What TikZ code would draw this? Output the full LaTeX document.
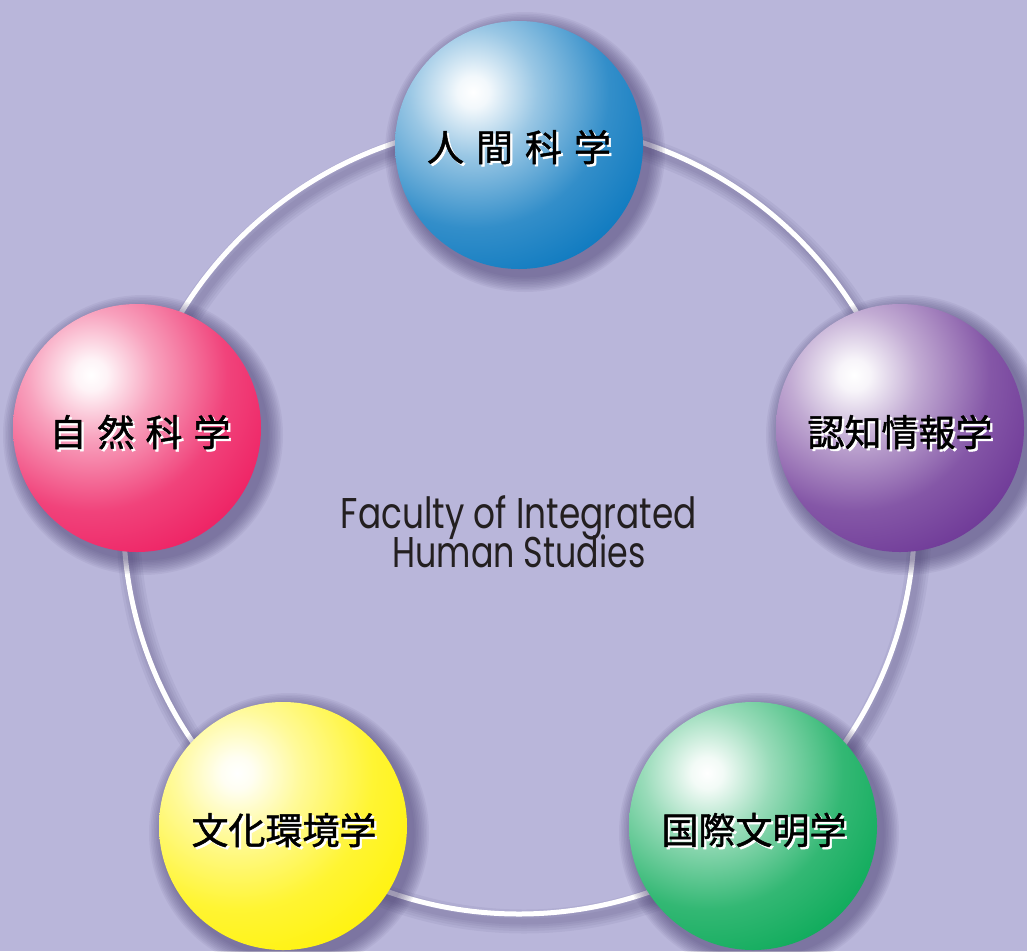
\documentclass[tikz,border=0pt]{standalone}
\usepackage{fontspec}
\usepackage{graphicx}
\newfontfamily\jp{Noto Sans CJK JP}[FakeBold=1.3]
\newfontfamily\en{Poppins}
\definecolor{bg}{RGB}{185,182,218}
\definecolor{shadowc}{RGB}{70,60,110}
\definecolor{ink}{RGB}{35,31,32}
\definecolor{cBlue}{RGB}{0,114,188}
\definecolor{cBlueD}{RGB}{0,100,175}
\definecolor{cPurple}{RGB}{102,45,145}
\definecolor{cPurpleD}{RGB}{90,35,135}
\definecolor{cGreen}{RGB}{0,166,81}
\definecolor{cGreenD}{RGB}{0,150,72}
\definecolor{cYellow}{RGB}{255,242,0}
\definecolor{cYellowD}{RGB}{250,232,0}
\definecolor{cRed}{RGB}{237,20,90}
\definecolor{cRedD}{RGB}{225,15,85}
\newcommand\mkball[3]{\pgfdeclareradialshading{#1}{\pgfpoint{0bp}{0bp}}{color(0bp)=(white); color(2bp)=(#2!5!white); color(8bp)=(#2!40!white); color(17bp)=(#2!80!white); color(28bp)=(#2); color(50bp)=(#3)}}
\mkball{ballBlue}{cBlue}{cBlueD}
\mkball{ballPurple}{cPurple}{cPurpleD}
\mkball{ballGreen}{cGreen}{cGreenD}
\mkball{ballYellow}{cYellow}{cYellowD}
\mkball{ballRed}{cRed}{cRedD}
\newcommand\ball[4]{%
  \foreach \k in {1,...,10}{\fill[shadowc,opacity=0.065] (#2+6,#3+7) circle[radius=124pt+\k*1.6pt];}
  \begin{scope}
    \clip (#2,#3) circle[radius=124pt];
    \shade[shading=#4] (#2-46,#3-53) circle[radius=200pt];
  \end{scope}
  \node[circle,minimum size=248pt,inner sep=0pt] (#1) at (#2,#3) {};
}
\tikzset{
  jplabel/.style={font=\jp\fontsize{37pt}{40pt}\selectfont,inner sep=0pt},
  enlabel/.style={font=\en\fontsize{43pt}{45pt}\selectfont,text=ink,inner sep=0pt,anchor=base},
}
\newcommand\jplab[4]{%
  \node[jplabel,text=white] at (#2+2.2,#3+2.2) {#4};
  \node[jplabel,text=black] (#1) at (#2,#3) {#4};
}
\begin{document}
\begin{tikzpicture}[x=1pt,y=-1pt]
  \fill[bg] (0,0) rectangle (1027,951);
  \useasboundingbox (0,0) rectangle (1027,951);
  % ring shadow
  \foreach \w in {24,19,14,10,6}{\draw[shadowc,opacity=0.07,line width=\w pt] (524,526) circle[radius=395.5pt];}
  % ring
  \draw[white,line width=5pt] (519,518.5) circle[radius=395.5pt];
  % spheres
  \ball{human}{519}{145}{ballBlue}
  \ball{cog}{900}{428}{ballPurple}
  \ball{intl}{753}{826}{ballGreen}
  \ball{cult}{283}{826}{ballYellow}
  \ball{nat}{137}{428}{ballRed}
  % labels
  \jplab{thuman}{519}{147}{人\hspace{12pt}間\hspace{12pt}科\hspace{12pt}学}
  \jplab{tnat}{140}{432}{自\hspace{11pt}然\hspace{11pt}科\hspace{11pt}学}
  \jplab{tcog}{900}{432}{認知情報学}
  \jplab{tintl}{754}{830}{国際文明学}
  \jplab{tcult}{284}{830}{文化環境学}
  % centre title
  \node[enlabel] (title1) at (519,528) {\resizebox{356pt}{\height}{Faculty of Integrated}};
  \node[enlabel] (title2) at (519,567) {\resizebox{253pt}{\height}{Human Studies}};
\end{tikzpicture}
\end{document}
